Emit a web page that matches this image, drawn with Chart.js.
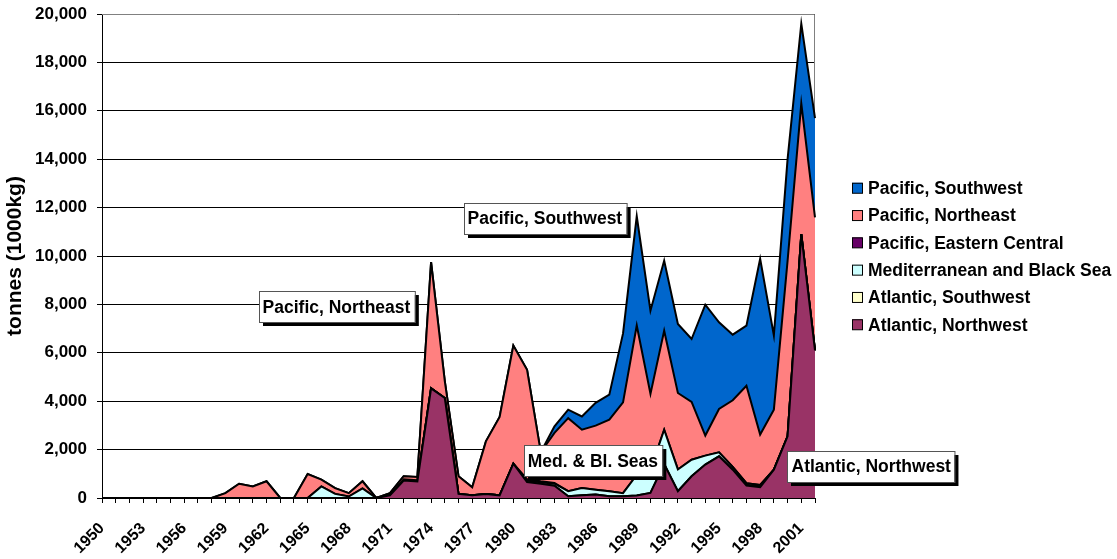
<!DOCTYPE html>
<html>
<head>
<meta charset="utf-8">
<script src="https://cdn.jsdelivr.net/npm/chart.js@4/dist/chart.umd.min.js"></script>
<style>
html,body{margin:0;padding:0;background:#fff;}
#wrap{width:1117px;height:559px;position:relative;}
</style>
</head>
<body>
<div id="wrap"><canvas id="c"></canvas></div>
<script>
// ---- Data (tonnes, 1000 kg) ----
const years = [
  1950,1951,1952,1953,1954,1955,1956,1957,1958,1959,
  1960,1961,1962,1963,1964,1965,1966,1967,1968,1969,
  1970,1971,1972,1973,1974,1975,1976,1977,1978,1979,
  1980,1981,1982,1983,1984,1985,1986,1987,1988,1989,
  1990,1991,1992,1993,1994,1995,1996,1997,1998,1999,
  2000,2001,2002
];
const tickLabels = [1950,1953,1956,1959,1962,1965,1968,1971,1974,1977,1980,1983,1986,1989,1992,1995,1998,2001];
const yTicks = [0,2000,4000,6000,8000,10000,12000,14000,16000,18000,20000];

const atlanticNorthwest = [
  0,0,0,0,0,0,0,0,0,0,
  0,0,0,0,0,0,0,0,0,0,
  0,110,720,680,4530,4130,170,110,165,110,
  1420,660,590,510,70,110,140,70,70,100,
  210,1400,280,900,1380,1720,1170,510,450,1170,
  2550,10900,6100
];
const atlanticSouthwest = [
  0,0,0,0,0,0,0,0,0,0,
  0,0,0,0,0,0,0,0,0,0,
  0,0,0,0,0,0,0,0,0,0,
  0,0,0,0,0,0,0,0,0,0,
  0,0,0,0,0,0,0,40,40,0,
  0,0,0
];
const mediterraneanBlackSea = [
  0,0,0,0,0,0,0,0,0,0,
  0,0,0,0,0,0,480,170,60,400,
  0,0,0,0,0,0,0,0,0,0,
  0,60,60,80,210,300,200,210,130,850,
  950,1420,900,680,370,170,110,60,50,0,
  0,0,0
];
const pacificEasternCentral = [
  0,0,0,0,0,0,0,0,0,0,
  0,0,0,0,0,0,0,0,0,0,
  0,0,50,50,0,0,0,0,0,0,
  0,60,40,30,0,0,0,0,0,0,
  0,0,0,0,0,0,0,0,0,0,
  0,0,0
];
const pacificNortheast = [
  0,0,0,0,0,0,0,0,0,200,
  590,480,690,0,0,990,280,240,140,290,
  0,90,130,140,5220,700,730,330,2175,3240,
  4880,4520,1200,2070,3020,2410,2650,2960,3750,6180,
  3140,4090,3160,2390,830,1790,2760,4030,2080,2480,
  7250,5400,5500
];
const pacificSouthwest = [
  0,0,0,0,0,0,0,0,0,0,
  0,0,0,0,0,0,0,0,0,0,
  0,0,0,0,0,0,0,0,0,0,
  0,0,0,270,350,550,940,1030,2850,4510,
  3440,2900,2850,2600,5410,3580,2710,2480,7260,3070,
  4200,3300,4100
];

// Callout labels (anchored in data units: year, tonnes)
const callouts = [
  {text: 'Pacific, Northeast', year: 1967.1, value: 7900},
  {text: 'Pacific, Southwest', year: 1982.3, value: 11570},
  {text: 'Med. & Bl. Seas', year: 1985.8, value: 1530},
  {text: 'Atlantic, Northwest', year: 2006.1, value: 1300}
];

const FONT = '"Liberation Sans", Arial, Helvetica, sans-serif';

const sideLegend = {
  id: 'sideLegend',
  afterDraw(chart) {
    const ctx = chart.ctx, ca = chart.chartArea;
    const ds = chart.data.datasets;
    const step = 27.3;
    const n = ds.length;
    const cy = 256.5;
    let y = cy - step * (n - 1) / 2;
    const x0 = ca.right + 37;
    ctx.save();
    ctx.font = 'bold 17.5px ' + FONT;
    ctx.textBaseline = 'middle';
    ctx.textAlign = 'left';
    for (let i = n - 1; i >= 0; i--) {
      ctx.fillStyle = ds[i].backgroundColor;
      ctx.fillRect(x0, y - 5.5, 10.5, 10.5);
      ctx.strokeStyle = '#000';
      ctx.lineWidth = 1;
      ctx.strokeRect(x0 + 0.5, y - 5, 10, 10);
      ctx.fillStyle = '#000';
      ctx.fillText(ds[i].label, x0 + 16, y + 1);
      y += step;
    }
    ctx.restore();
  }
};

const plotFrame = {
  id: 'plotFrame',
  beforeDatasetsDraw(chart) {
    const ctx = chart.ctx, ca = chart.chartArea;
    ctx.save();
    ctx.strokeStyle = '#808080';
    ctx.lineWidth = 1;
    ctx.beginPath();
    ctx.moveTo(ca.left, ca.top + 0.5);
    ctx.lineTo(ca.right - 0.5, ca.top + 0.5);
    ctx.lineTo(ca.right - 0.5, ca.bottom);
    ctx.stroke();
    ctx.restore();
  }
};

const calloutPlugin = {
  id: 'callouts',
  afterDraw(chart) {
    const ctx = chart.ctx;
    const xs = chart.scales.x, ys = chart.scales.y;
    ctx.save();
    ctx.font = 'bold 17.5px ' + FONT;
    ctx.textBaseline = 'middle';
    ctx.textAlign = 'center';
    callouts.forEach(c => {
      const cx = xs.getPixelForValue(c.year - years[0]);
      const cy = ys.getPixelForValue(c.value);
      const w = ctx.measureText(c.text).width + 8;
      const h = 31;
      const l = Math.round(cx - w / 2), t = Math.round(cy - h / 2);
      ctx.fillStyle = '#000';
      ctx.fillRect(l + 4, t + 4, w, h);
      ctx.fillStyle = '#fff';
      ctx.fillRect(l, t, w, h);
      ctx.strokeStyle = '#555';
      ctx.lineWidth = 1;
      ctx.strokeRect(l + 0.5, t + 0.5, w, h);
      ctx.fillStyle = '#000';
      ctx.fillText(c.text, cx, cy + 1);
    });
    ctx.restore();
  }
};

const series = [
  {label: 'Atlantic, Northwest', data: atlanticNorthwest, color: '#993366'},
  {label: 'Atlantic, Southwest', data: atlanticSouthwest, color: '#FFFFCC'},
  {label: 'Mediterranean and Black Sea', data: mediterraneanBlackSea, color: '#CCFFFF'},
  {label: 'Pacific, Eastern Central', data: pacificEasternCentral, color: '#660066'},
  {label: 'Pacific, Northeast', data: pacificNortheast, color: '#FF8080'},
  {label: 'Pacific, Southwest', data: pacificSouthwest, color: '#0066CC'}
];

new Chart(document.getElementById('c'), {
  type: 'line',
  data: {
    labels: years.map(String),
    datasets: series.map((s, i) => ({
      label: s.label,
      data: s.data,
      backgroundColor: s.color,
      borderColor: '#000',
      borderWidth: 2,
      pointRadius: 0,
      tension: 0,
      fill: i === 0 ? 'origin' : '-1'
    }))
  },
  options: {
    responsive: true,
    maintainAspectRatio: false,
    animation: false,
    devicePixelRatio: 1,
    layout: {padding: {top: 14, right: 302, bottom: 0, left: 0}},
    plugins: {
      legend: {display: false},
      tooltip: {enabled: false},
      filler: {propagate: false}
    },
    scales: {
      x: {
        type: 'category',
        offset: false,
        afterFit(scale) { scale.height = 61; },
        grid: {display: true, drawOnChartArea: false, drawTicks: true, tickLength: 5, color: '#000'},
        border: {display: true, color: '#000', width: 1},
        ticks: {
          autoSkip: false,
          maxRotation: 45,
          minRotation: 45,
          padding: 16,
          color: '#000',
          font: {family: FONT, size: 16, weight: 'bold'},
          callback(value) {
            const yr = Number(this.getLabelForValue(value));
            return tickLabels.includes(yr) ? String(yr) : '';
          }
        }
      },
      y: {
        stacked: true,
        min: 0,
        max: 20000,
        afterFit(scale) { scale.width = 102; scale.paddingTop = 4; scale.paddingBottom = 4; },
        afterBuildTicks(scale) { scale.ticks = yTicks.map(v => ({value: v})); },
        grid: {color: '#000', lineWidth: 1, drawTicks: true, tickLength: 5, tickColor: '#000'},
        border: {display: true, color: '#000', width: 1},
        title: {
          display: true,
          text: 'tonnes (1000kg)',
          color: '#000',
          font: {family: FONT, size: 21, weight: 'bold'},
          padding: {top: 3, bottom: 0}
        },
        ticks: {
          padding: 10,
          color: '#000',
          font: {family: FONT, size: 17, weight: 'bold'},
          callback: v => Number(v).toLocaleString('en-US')
        }
      }
    }
  },
  plugins: [plotFrame, sideLegend, calloutPlugin]
});
</script>
</body>
</html>
